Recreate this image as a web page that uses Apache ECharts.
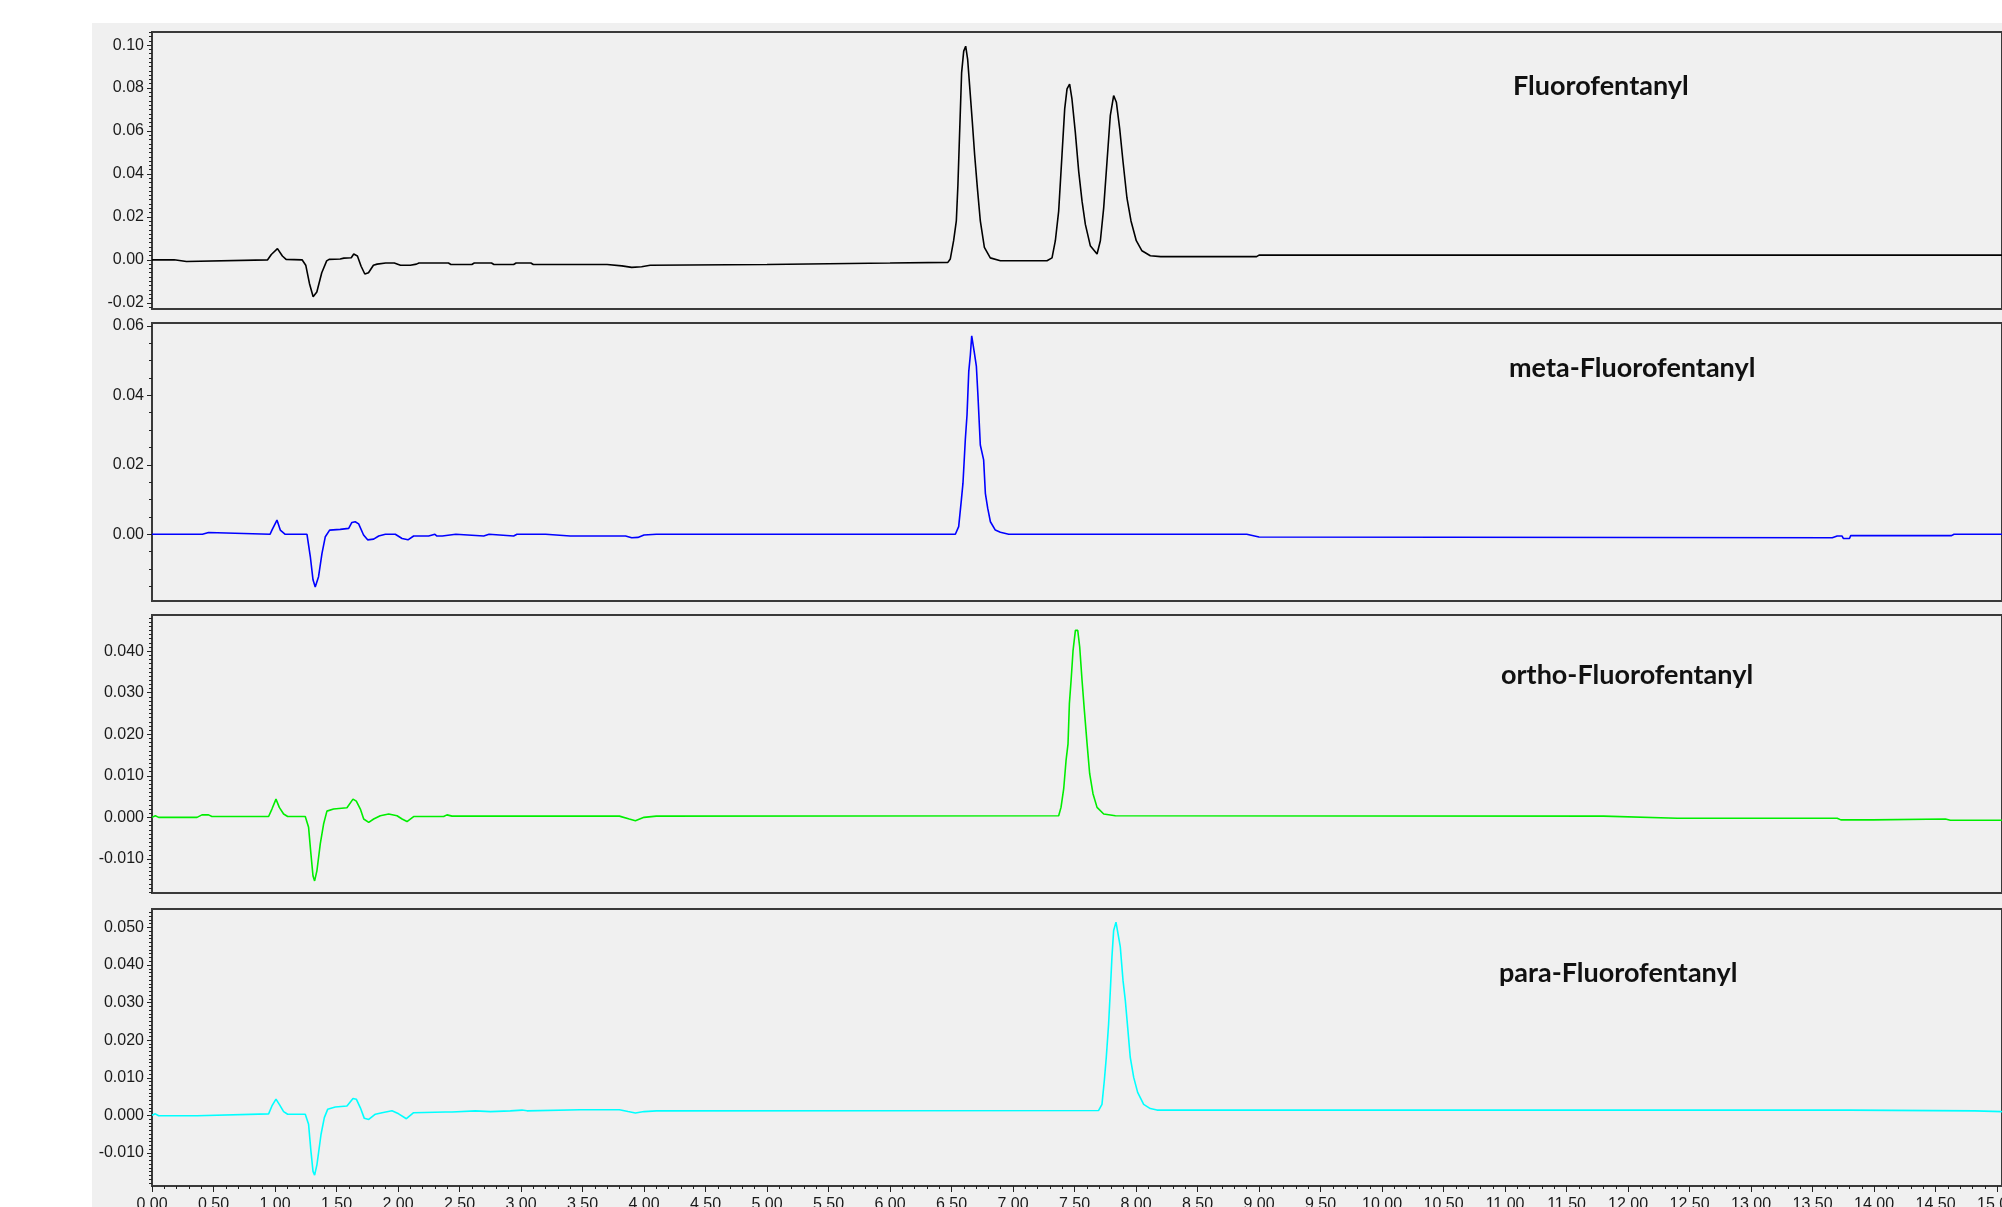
<!DOCTYPE html>
<html>
<head>
<meta charset="utf-8">
<title>Fluorofentanyl isomers</title>
<script src="https://cdn.jsdelivr.net/npm/echarts@6/dist/echarts.min.js"></script>
<style>
  html, body { margin: 0; padding: 0; background: #ffffff; }
  #backdrop { position: absolute; left: 92px; top: 23px; width: 1910px; height: 1184px; background: #f0f0f0; }
  #chart { position: absolute; left: 0; top: 0; width: 2002px; height: 1207px; }
</style>
</head>
<body>
<div id="backdrop"></div>
<div id="chart"></div>
<script>
// retention time (min) / absorbance
var fluoroTime = [0.00, 0.18, 0.19, 0.28, 0.29, 0.94, 0.97, 1.02, 1.06, 1.09, 1.22, 1.25, 1.28, 1.31, 1.34, 1.38, 1.42, 1.44, 1.53, 1.56, 1.62, 1.64, 1.67, 1.70, 1.73, 1.76, 1.80, 1.83, 1.90, 1.97, 2.02, 2.10, 2.15, 2.17, 2.41, 2.43, 2.60, 2.62, 2.76, 2.78, 2.94, 2.96, 3.08, 3.10, 3.70, 3.82, 3.90, 3.98, 4.05, 5.00, 5.50, 6.00, 6.47,
  6.490, 6.517, 6.539, 6.552, 6.566, 6.582, 6.599, 6.615, 6.631, 6.647, 6.669, 6.688, 6.710, 6.734, 6.767, 6.815, 6.897, 7.276,
  7.317, 7.344, 7.371, 7.398, 7.420, 7.439, 7.460, 7.479, 7.506, 7.534, 7.561, 7.588, 7.628, 7.683,
  7.710, 7.737, 7.764, 7.791, 7.818, 7.840, 7.867, 7.894, 7.926, 7.959, 8.002, 8.048, 8.116, 8.20, 8.98, 9.00, 15.04];
var fluoroSignal = [0.0000, 0.0000, -0.0008, -0.0008, 0.0000, 0.0000, 0.0025, 0.0052, 0.0018, 0.0002, 0.0000, -0.0025, -0.0110, -0.0172, -0.0150, -0.0060, -0.0005, 0.0002, 0.0004, 0.0008, 0.0010, 0.0027, 0.0018, -0.0030, -0.0066, -0.0060, -0.0025, -0.0020, -0.0015, -0.0015, -0.0025, -0.0025, -0.0020, -0.0015, -0.0015, -0.0022, -0.0022, -0.0015, -0.0015, -0.0022, -0.0022, -0.0015, -0.0015, -0.0022, -0.0022, -0.0028, -0.0035, -0.0032, -0.0025, -0.0022, -0.0018, -0.0015, -0.0012,
  0.0004, 0.0089, 0.0181, 0.0350, 0.0596, 0.0872, 0.0972, 0.0995, 0.0934, 0.0811, 0.0642, 0.0488, 0.0335, 0.0181, 0.0058, 0.0009, -0.0004, -0.0004,
  0.0009, 0.0089, 0.0227, 0.0488, 0.0703, 0.0796, 0.0818, 0.0749, 0.0596, 0.0411, 0.0273, 0.0165, 0.0066, 0.0027,
  0.0089, 0.0242, 0.0458, 0.0673, 0.0765, 0.0734, 0.0611, 0.0458, 0.0288, 0.0181, 0.0089, 0.0042, 0.0019, 0.0015, 0.0015, 0.0022, 0.0022];

var metaTime = [0.00, 0.41, 0.42, 0.46, 0.47, 0.96, 0.975, 1.016, 1.043, 1.083, 1.26, 1.287, 1.309, 1.327, 1.354, 1.382, 1.409, 1.444, 1.53, 1.599, 1.625, 1.652, 1.680, 1.720, 1.753, 1.802, 1.843, 1.897, 1.978, 2.033, 2.081, 2.127, 2.249, 2.263, 2.30, 2.317, 2.36, 2.371, 2.47, 2.48, 2.697, 2.71, 2.74, 2.751, 2.94, 2.967, 3.20, 3.40, 3.85, 3.90, 3.95, 4.00, 4.10,
  6.531, 6.558, 6.580, 6.593, 6.612, 6.626, 6.640, 6.653, 6.664, 6.675, 6.686, 6.702, 6.715, 6.734, 6.761, 6.775, 6.794, 6.816, 6.856, 6.897, 6.965,
  8.90, 9.00, 13.66, 13.70, 13.74, 13.75, 13.80, 13.81, 14.63, 14.65, 15.04];
var metaSignal = [0.0000, 0.0000, 0.0005, 0.0005, 0.0000, 0.0000, 0.0012, 0.0041, 0.0012, 0.0000, 0.0000, -0.0064, -0.0131, -0.0152, -0.0122, -0.0055, -0.0007, 0.0012, 0.0014, 0.0017, 0.0034, 0.0036, 0.0030, -0.0002, -0.0016, -0.0014, -0.0005, 0.0000, 0.0000, -0.0012, -0.0016, -0.0005, -0.0005, 0.0000, 0.0000, -0.0005, -0.0005, 0.0000, 0.0000, -0.0005, -0.0005, 0.0000, 0.0000, -0.0005, -0.0005, 0.0000, 0.0000, -0.0005, -0.0005, -0.0010, -0.0009, -0.0002, 0.0000,
  0.0000, 0.0022, 0.0099, 0.0147, 0.0272, 0.0344, 0.0468, 0.0516, 0.0571, 0.0574, 0.0521, 0.0483, 0.0397, 0.0257, 0.0214, 0.0118, 0.0075, 0.0036, 0.0012, 0.0006, 0.0000,
  0.0000, -0.0008, -0.0010, -0.0005, -0.0005, -0.0012, -0.0012, -0.0004, -0.0004, 0.0000, 0.0000];

var orthoTime = [0.000, 0.027, 0.054, 0.366, 0.406, 0.460, 0.487, 0.948, 0.975, 1.008, 1.035, 1.070, 1.103, 1.246, 1.273, 1.292, 1.309, 1.322, 1.341, 1.368, 1.395, 1.422, 1.476, 1.585, 1.634, 1.661, 1.694, 1.721, 1.762, 1.802, 1.856, 1.924, 1.992, 2.033, 2.073, 2.127, 2.371, 2.398, 2.439, 3.80, 3.88, 3.93, 4.00, 4.10,
  7.371, 7.390, 7.412, 7.431, 7.447, 7.458, 7.472, 7.488, 7.507, 7.526, 7.542, 7.561, 7.580, 7.602, 7.623, 7.650, 7.683, 7.737, 7.832,
  11.80, 12.40, 13.70, 13.73, 13.99, 14.00, 14.58, 14.62, 15.04];
var orthoSignal = [0.0000, 0.0004, 0.0000, 0.0000, 0.0006, 0.0006, 0.0002, 0.0002, 0.0020, 0.0044, 0.0024, 0.0008, 0.0002, 0.0002, -0.0024, -0.0088, -0.0141, -0.0153, -0.0128, -0.0064, -0.0016, 0.0015, 0.0020, 0.0023, 0.0044, 0.0039, 0.0020, -0.0004, -0.0012, -0.0004, 0.0004, 0.0008, 0.0004, -0.0004, -0.0010, 0.0002, 0.0002, 0.0006, 0.0003, 0.0003, -0.0004, -0.0008, 0.0000, 0.0003,
  0.0004, 0.0024, 0.0069, 0.0137, 0.0177, 0.0273, 0.0330, 0.0402, 0.0450, 0.0450, 0.0410, 0.0330, 0.0257, 0.0177, 0.0105, 0.0057, 0.0024, 0.0008, 0.0004,
  0.0003, -0.0002, -0.0002, -0.0006, -0.0006, -0.0004, -0.0004, -0.0007, -0.0007];

var paraTime = [0.000, 0.027, 0.054, 0.366, 0.380, 0.948, 0.975, 1.008, 1.035, 1.070, 1.103, 1.246, 1.273, 1.292, 1.309, 1.322, 1.341, 1.374, 1.401, 1.428, 1.490, 1.585, 1.634, 1.661, 1.694, 1.726, 1.762, 1.816, 1.870, 1.951, 2.005, 2.068, 2.127, 2.385, 2.398, 2.439, 2.629, 2.751, 2.913, 3.008, 3.049, 3.48, 3.80, 3.87, 3.93, 4.00, 4.10,
  7.696, 7.723, 7.742, 7.758, 7.777, 7.791, 7.804, 7.818, 7.837, 7.853, 7.872, 7.894, 7.913, 7.932, 7.953, 7.981, 8.013, 8.062, 8.116, 8.170,
  13.80, 13.81, 14.82, 14.83, 15.04];
var paraSignal = [0.0000, 0.0004, -0.0001, -0.0001, 0.0003, 0.0004, 0.0025, 0.0043, 0.0029, 0.0010, 0.0003, 0.0003, -0.0024, -0.0095, -0.0149, -0.0159, -0.0131, -0.0051, -0.0006, 0.0016, 0.0022, 0.0025, 0.0045, 0.0043, 0.0020, -0.0008, -0.0011, 0.0003, 0.0007, 0.0012, 0.0004, -0.0009, 0.0007, 0.0009, 0.0012, 0.0009, 0.0012, 0.0010, 0.0012, 0.0014, 0.0012, 0.0015, 0.0015, 0.0010, 0.0006, 0.0010, 0.0012,
  0.0013, 0.0029, 0.0092, 0.0154, 0.0243, 0.0332, 0.0421, 0.0492, 0.0514, 0.0510, 0.0448, 0.0359, 0.0305, 0.0234, 0.0154, 0.0101, 0.0061, 0.0029, 0.0018, 0.0014,
  0.0014, 0.0012, 0.0012, 0.0010, 0.0010];

// y tick labels of each panel
var fluoroTicks = [-0.02, 0.00, 0.02, 0.04, 0.06, 0.08, 0.10];
var metaTicks = [0.00, 0.02, 0.04, 0.06];
var orthoTicks = [-0.010, 0.000, 0.010, 0.020, 0.030, 0.040];
var paraTicks = [-0.010, 0.000, 0.010, 0.020, 0.030, 0.040, 0.050];

var panels = [
  { name: 'Fluorofentanyl', time: fluoroTime, signal: fluoroSignal, ticks: fluoroTicks, color: '#000000', min: -0.0229, max: 0.1061, minorStep: 0.002, digits: 2 },
  { name: 'meta-Fluorofentanyl', time: metaTime, signal: metaSignal, ticks: metaTicks, color: '#0000ff', min: -0.0192, max: 0.0608, minorStep: 0.005, digits: 2 },
  { name: 'ortho-Fluorofentanyl', time: orthoTime, signal: orthoSignal, ticks: orthoTicks, color: '#00ee00', min: -0.0182, max: 0.0487, minorStep: 0.001, digits: 3 },
  { name: 'para-Fluorofentanyl', time: paraTime, signal: paraSignal, ticks: paraTicks, color: '#00ffff', min: -0.0188, max: 0.0549, minorStep: 0.001, digits: 3 }
];

var gridTops = [32, 323, 615, 909];
var gridHeights = [277, 278, 278, 277];
var labelPos = [[1513, 86], [1509, 368], [1501, 675], [1499, 973]];

function stepValues(min, max, step) {
  var out = [];
  for (var k = Math.ceil(min / step - 1e-9); k * step <= max + 1e-12; k++) {
    out.push(+(k * step).toFixed(6));
  }
  return out;
}

var labelFont = { color: '#1a1a1a', fontFamily: 'Liberation Sans', fontSize: 16 };
var grids = [], xAxes = [], yAxes = [], series = [], graphics = [];

panels.forEach(function (p, i) {
  var last = i === panels.length - 1;
  grids.push({
    left: 152, top: gridTops[i], width: 1850, height: gridHeights[i],
    outerBoundsMode: 'none', containLabel: false,
    show: true, borderColor: '#3a3a3a', borderWidth: 2, backgroundColor: 'transparent'
  });
  xAxes.push({
    type: 'value', gridIndex: i, min: 0, max: 15.04, interval: 0.5, position: 'bottom',
    axisLine: { show: false, onZero: false },
    axisTick: { show: last, length: 6, lineStyle: { color: '#222', width: 1 } },
    minorTick: { show: last, splitNumber: 5, length: 3, lineStyle: { color: '#222', width: 1 } },
    splitLine: { show: false },
    axisLabel: Object.assign({
      show: last, margin: 11, showMaxLabel: false, hideOverlap: false,
      formatter: function (v) { return v.toFixed(2); }
    }, labelFont)
  });
  // major ticks + labels
  yAxes.push({
    type: 'value', gridIndex: i, min: p.min, max: p.max, position: 'left',
    axisLine: { show: false, onZero: false },
    axisTick: { show: true, length: 5, customValues: p.ticks, lineStyle: { color: '#222', width: 1 } },
    splitLine: { show: false },
    axisLabel: Object.assign({
      margin: 8, customValues: p.ticks,
      formatter: function (v) { return v.toFixed(p.digits); }
    }, labelFont)
  });
  // minor ticks
  yAxes.push({
    type: 'value', gridIndex: i, min: p.min, max: p.max, position: 'left',
    axisLine: { show: false, onZero: false },
    axisTick: { show: true, length: 3, customValues: stepValues(p.min, p.max, p.minorStep), lineStyle: { color: '#222', width: 1 } },
    splitLine: { show: false },
    axisLabel: { show: false }
  });
  series.push({
    name: p.name, type: 'line', xAxisIndex: i, yAxisIndex: 2 * i,
    showSymbol: false, symbol: 'none', animation: false,
    lineStyle: { color: p.color, width: 1.6 },
    data: p.time.map(function (t, k) { return [t, p.signal[k]]; })
  });
  graphics.push({
    type: 'text', x: labelPos[i][0], y: labelPos[i][1],
    style: {
      text: p.name, font: 'bold 27px Lato', fill: '#111111',
      verticalAlign: 'middle', textVerticalAlign: 'middle'
    }
  });
});

var chart = echarts.init(document.getElementById('chart'));
var option = {
  backgroundColor: 'transparent',
  animation: false,
  grid: grids,
  xAxis: xAxes,
  yAxis: yAxes,
  series: series,
  graphic: graphics
};
if (option && typeof option === 'object') {
  chart.setOption(option);
}
</script>
</body>
</html>
